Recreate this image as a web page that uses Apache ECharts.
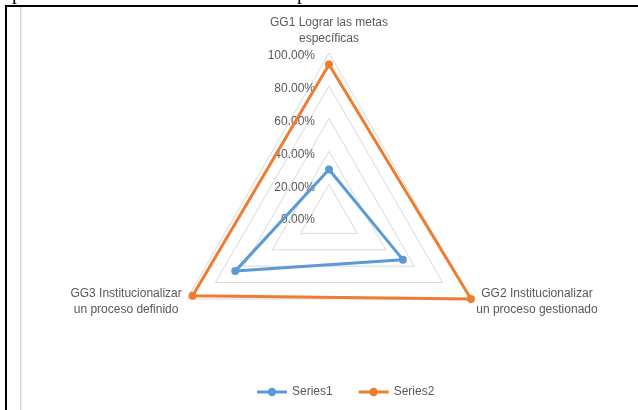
<!DOCTYPE html>
<html>
<head>
<meta charset="utf-8">
<script src="https://cdn.jsdelivr.net/npm/echarts@6/dist/echarts.min.js"></script>
<style>
  html, body { margin: 0; padding: 0; background: #fff; }
  #chart { width: 638px; height: 410px; }
</style>
</head>
<body>
<div id="chart"></div>
<script>
// categories (GG1 at the top, GG2 lower right, GG3 lower left)
const categories = [
  'GG1 Lograr las metas\nespecíficas',
  'GG2 Institucionalizar\nun proceso gestionado',
  'GG3 Institucionalizar\nun proceso definido'
]
const seriesNames = ['Series1', 'Series2']
const series1 = [0.29, 0.52, 0.66]
const series2 = [0.93, 1.00, 0.96]
const colors = ['#5b9bd5', '#ed7d31']

// echarts places indicators counter-clockwise, so GG3 goes second
const order = [0, 2, 1]
const pick = (arr) => order.map(i => arr[i])

const textColor = '#595959'
const font = 'Liberation Sans'

const chart = echarts.init(document.getElementById('chart'))

const option = {
  backgroundColor: '#fff',
  animation: false,
  legend: {
    left: 252,
    top: 381,
    itemWidth: 30,
    itemHeight: 9,
    itemGap: 26,
    icon: 'path://M0,3H32V6H0Z M11.5,4.5A4.5,4.5,0,1,1,20.5,4.5A4.5,4.5,0,1,1,11.5,4.5Z',
    textStyle: { color: textColor, fontSize: 12, fontFamily: font },
    data: seriesNames
  },
  radar: {
    center: [329, 217],
    radius: 164,
    startAngle: 90,
    shape: 'polygon',
    splitNumber: 5,
    nameGap: 6,
    axisName: {
      color: textColor,
      fontSize: 12,
      fontFamily: font,
      formatter: function (name) {
        return name.split('\n').map(s => '{c|' + s + '}').join('\n')
      },
      rich: {
        c: { align: 'center', color: textColor, fontSize: 12, fontFamily: font, lineHeight: 16 }
      }
    },
    axisLine: { show: false },
    axisTick: { show: false },
    splitArea: { show: false },
    splitLine: { lineStyle: { color: '#d9d9d9', width: 1 } },
    axisLabel: {
      show: false,
      margin: 14,
      color: textColor,
      fontSize: 12,
      fontFamily: font,
      formatter: function (v) {
        return '{t|' + (v * 100).toFixed(2) + '%}'
      },
      rich: {
        // nudge the tick labels a little below the ring corners
        t: { color: textColor, fontSize: 12, fontFamily: font, padding: [6, 0, 0, 0] }
      }
    },
    indicator: pick(categories).map((name, k) => {
      const ind = { name: name, min: 0, max: 1 }
      // tick labels only along the GG1 axis
      if (k === 0) ind.axisLabel = { show: true }
      return ind
    })
  },
  series: seriesNames.map((s, i) => ({
    name: s,
    type: 'radar',
    symbol: 'circle',
    symbolSize: 8,
    itemStyle: { color: colors[i] },
    lineStyle: { color: colors[i], width: 3 },
    data: [{ name: s, value: pick(i === 0 ? series1 : series2) }]
  })),
  graphic: [
    // cut-off text above the frame
    { type: 'text', left: 12, top: -16, style: { text: 'p', fill: '#000', font: '20px "Liberation Serif"' } },
    { type: 'text', left: 297, top: -16, style: { text: 'p', fill: '#000', font: '20px "Liberation Serif"' } },
    // frame
    { type: 'rect', shape: { x: 5, y: 5, width: 633, height: 2 }, style: { fill: '#000' } },
    { type: 'rect', shape: { x: 5, y: 5, width: 2, height: 405 }, style: { fill: '#000' } },
    { type: 'rect', shape: { x: 20, y: 7, width: 1.5, height: 403 }, style: { fill: '#d9d9d9' } }
  ]
}

chart.setOption(option)
</script>
</body>
</html>
